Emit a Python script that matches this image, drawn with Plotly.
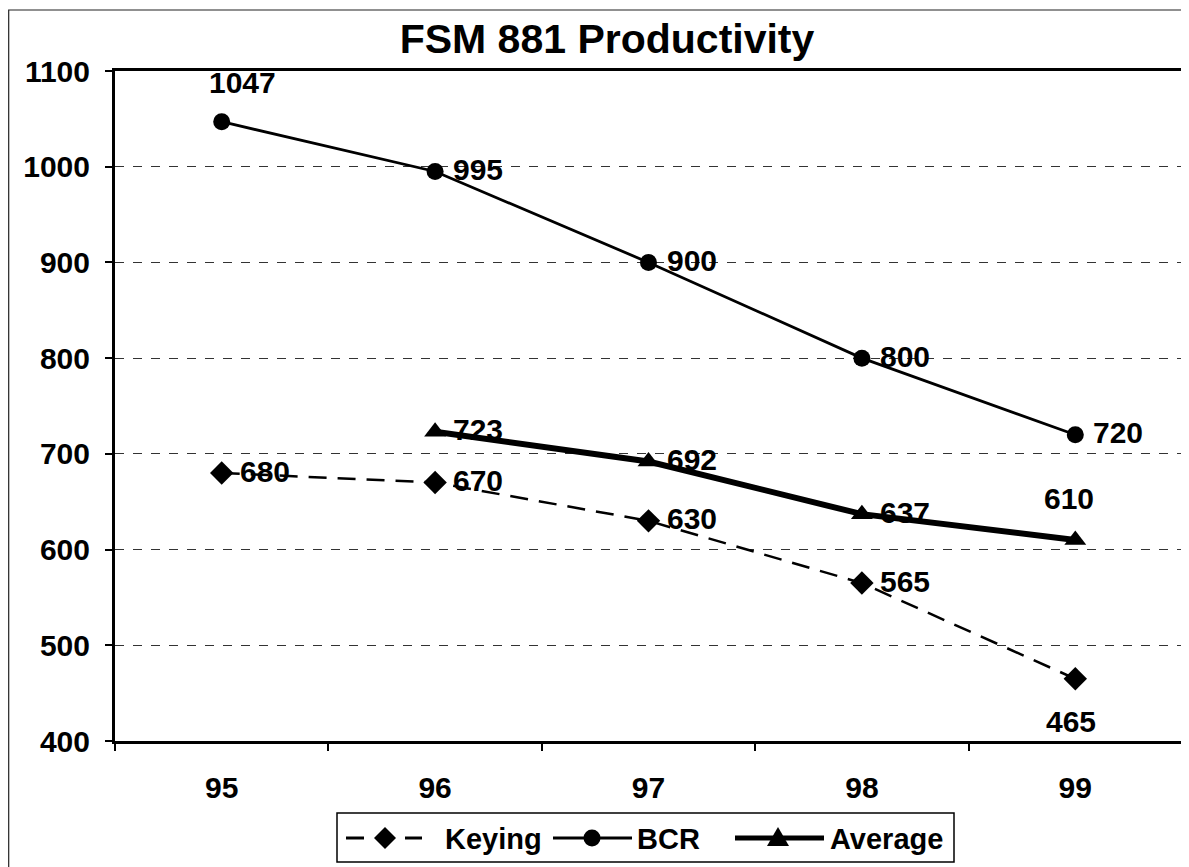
import plotly.graph_objects as go

years = ["95", "96", "97", "98", "99"]
keying = [680, 670, 630, 565, 465]
bcr = [1047, 995, 900, 800, 720]
average = [None, 723, 692, 637, 610]
series_names = ["Keying", "BCR", "Average"]

FONT = "Arial, 'Liberation Sans', sans-serif"
OFF = 8                      # page body margin
W, H = 1189 - OFF, 867 - OFF
L, T = 115 - OFF, 71 - OFF
R = W - (1182 - OFF)
B = H - (741 - OFF)
PW, PH = W - L - R, H - T - B


def px(x):  # page pixel -> paper x
    return (x - OFF - L) / PW


def py(y):  # page pixel -> paper y
    return (H - B - (y - OFF)) / PH


fig = go.Figure()
fig.add_trace(go.Scatter(
    x=years, y=keying, name="Keying", mode="lines+markers",
    line=dict(color="black", width=2.5, dash="18px,11px"),
    marker=dict(symbol="diamond", size=18, color="black"),
))
fig.add_trace(go.Scatter(
    x=years, y=bcr, name="BCR", mode="lines+markers",
    line=dict(color="black", width=2.8),
    marker=dict(symbol="circle", size=17, color="black"),
))
fig.add_trace(go.Scatter(
    x=years, y=average, name="Average", mode="lines+markers",
    line=dict(color="black", width=6),
    marker=dict(symbol="triangle-up", size=19, color="black"),
))

# data labels (position style per point)
label_style = {
    "BCR": ["top", "right", "right", "right", "right"],
    "Keying": ["right", "right", "right", "right", "below"],
    "Average": [None, "right", "right", "right", "above"],
}
series = {"Keying": keying, "BCR": bcr, "Average": average}
LBL = dict(family=FONT, size=30, color="black", weight="bold")
annotations = []
for name, vals in series.items():
    for i, v in enumerate(vals):
        if v is None:
            continue
        st = label_style[name][i]
        a = dict(x=i, y=v, text=str(v), showarrow=False, xref="x", yref="y", font=LBL)
        if st == "right":
            a.update(xanchor="left", yanchor="middle", xshift=16, yshift=2)
        elif st == "top":
            a.update(xanchor="center", yanchor="middle", xshift=21, yshift=39)
        elif st == "above":
            a.update(xanchor="center", yanchor="middle", xshift=-6, yshift=42)
        elif st == "below":
            a.update(xanchor="center", yanchor="middle", xshift=-4, yshift=-43)
        annotations.append(a)

# ---- manual legend (box, samples, labels) ----
LEG_Y = 838
shapes = [
    # outer chart border
    dict(type="rect", xref="paper", yref="paper",
         x0=px(8.7), x1=px(1200), y0=py(880), y1=py(10),
         line=dict(color="#222", width=1.2), layer="below"),
    # legend box
    dict(type="rect", xref="paper", yref="paper",
         x0=px(337), x1=px(954), y0=py(862), y1=py(813),
         line=dict(color="black", width=1.5), fillcolor="white", layer="above"),
]
# Keying sample: short dashes + diamond
for x0, x1 in [(346, 364), (405, 422)]:
    shapes.append(dict(type="line", xref="paper", yref="paper",
                       x0=px(x0), x1=px(x1), y0=py(LEG_Y), y1=py(LEG_Y),
                       line=dict(color="black", width=3)))
cx = 385
shapes.append(dict(type="path", xref="paper", yref="paper",
                   path=f"M{px(cx-11)},{py(LEG_Y)} L{px(cx)},{py(LEG_Y-11)} "
                        f"L{px(cx+11)},{py(LEG_Y)} L{px(cx)},{py(LEG_Y+11)} Z",
                   fillcolor="black", line=dict(color="black", width=0)))
# BCR sample: line + circle
shapes.append(dict(type="line", xref="paper", yref="paper",
                   x0=px(553), x1=px(632), y0=py(LEG_Y), y1=py(LEG_Y),
                   line=dict(color="black", width=2.8)))
cx = 592
shapes.append(dict(type="circle", xref="paper", yref="paper",
                   x0=px(cx-8.5), x1=px(cx+8.5), y0=py(LEG_Y+8.5), y1=py(LEG_Y-8.5),
                   fillcolor="black", line=dict(color="black", width=0)))
# Average sample: thick line + triangle
shapes.append(dict(type="line", xref="paper", yref="paper",
                   x0=px(735), x1=px(824), y0=py(LEG_Y), y1=py(LEG_Y),
                   line=dict(color="black", width=5)))
cx = 778
shapes.append(dict(type="path", xref="paper", yref="paper",
                   path=f"M{px(cx-11)},{py(LEG_Y+8)} L{px(cx)},{py(LEG_Y-11)} "
                        f"L{px(cx+11)},{py(LEG_Y+8)} Z",
                   fillcolor="black", line=dict(color="black", width=0)))

LEGF = dict(family=FONT, size=29, color="black", weight="bold")
for name, xl, anc in zip(series_names, [444, 636, 944], ["left", "left", "right"]):
    annotations.append(dict(x=px(xl), y=py(LEG_Y + 1), xref="paper", yref="paper",
                            text=name, showarrow=False, xanchor=anc,
                            yanchor="middle", font=LEGF, borderpad=0))

fig.update_layout(
    width=W, height=H,
    margin=dict(l=L, r=R, t=T, b=B, autoexpand=False),
    paper_bgcolor="white", plot_bgcolor="white",
    font=dict(family=FONT, color="black"),
    title=dict(text="FSM 881 Productivity", x=(607 - OFF) / W, xanchor="center",
               y=1 - (39 - OFF) / H, yanchor="middle",
               font=dict(family=FONT, size=41, color="black", weight="bold")),
    showlegend=False,
    annotations=annotations,
    shapes=shapes,
)

fig.update_xaxes(
    type="category", range=[-0.5, len(years) - 0.5], tickson="boundaries",
    ticks="outside", ticklen=7, tickwidth=1.5, automargin=False,
    tickcolor="black", showline=True, linecolor="black", linewidth=3, mirror=True,
    showgrid=False, ticklabelstandoff=18, tickangle=0,
    tickfont=dict(family=FONT, size=30, color="black", weight="bold"),
)
fig.update_yaxes(
    range=[400, 1100], dtick=100, tick0=400, ticks="outside", ticklen=7, tickwidth=1.5,
    tickcolor="black", showline=True, linecolor="black", linewidth=3, mirror=True,
    showgrid=True, gridcolor="#333", gridwidth=1, griddash="dash", zeroline=False,
    ticklabelstandoff=9, automargin=False,
    tickfont=dict(family=FONT, size=30, color="black", weight="bold"),
)

fig.write_html("out.html")
